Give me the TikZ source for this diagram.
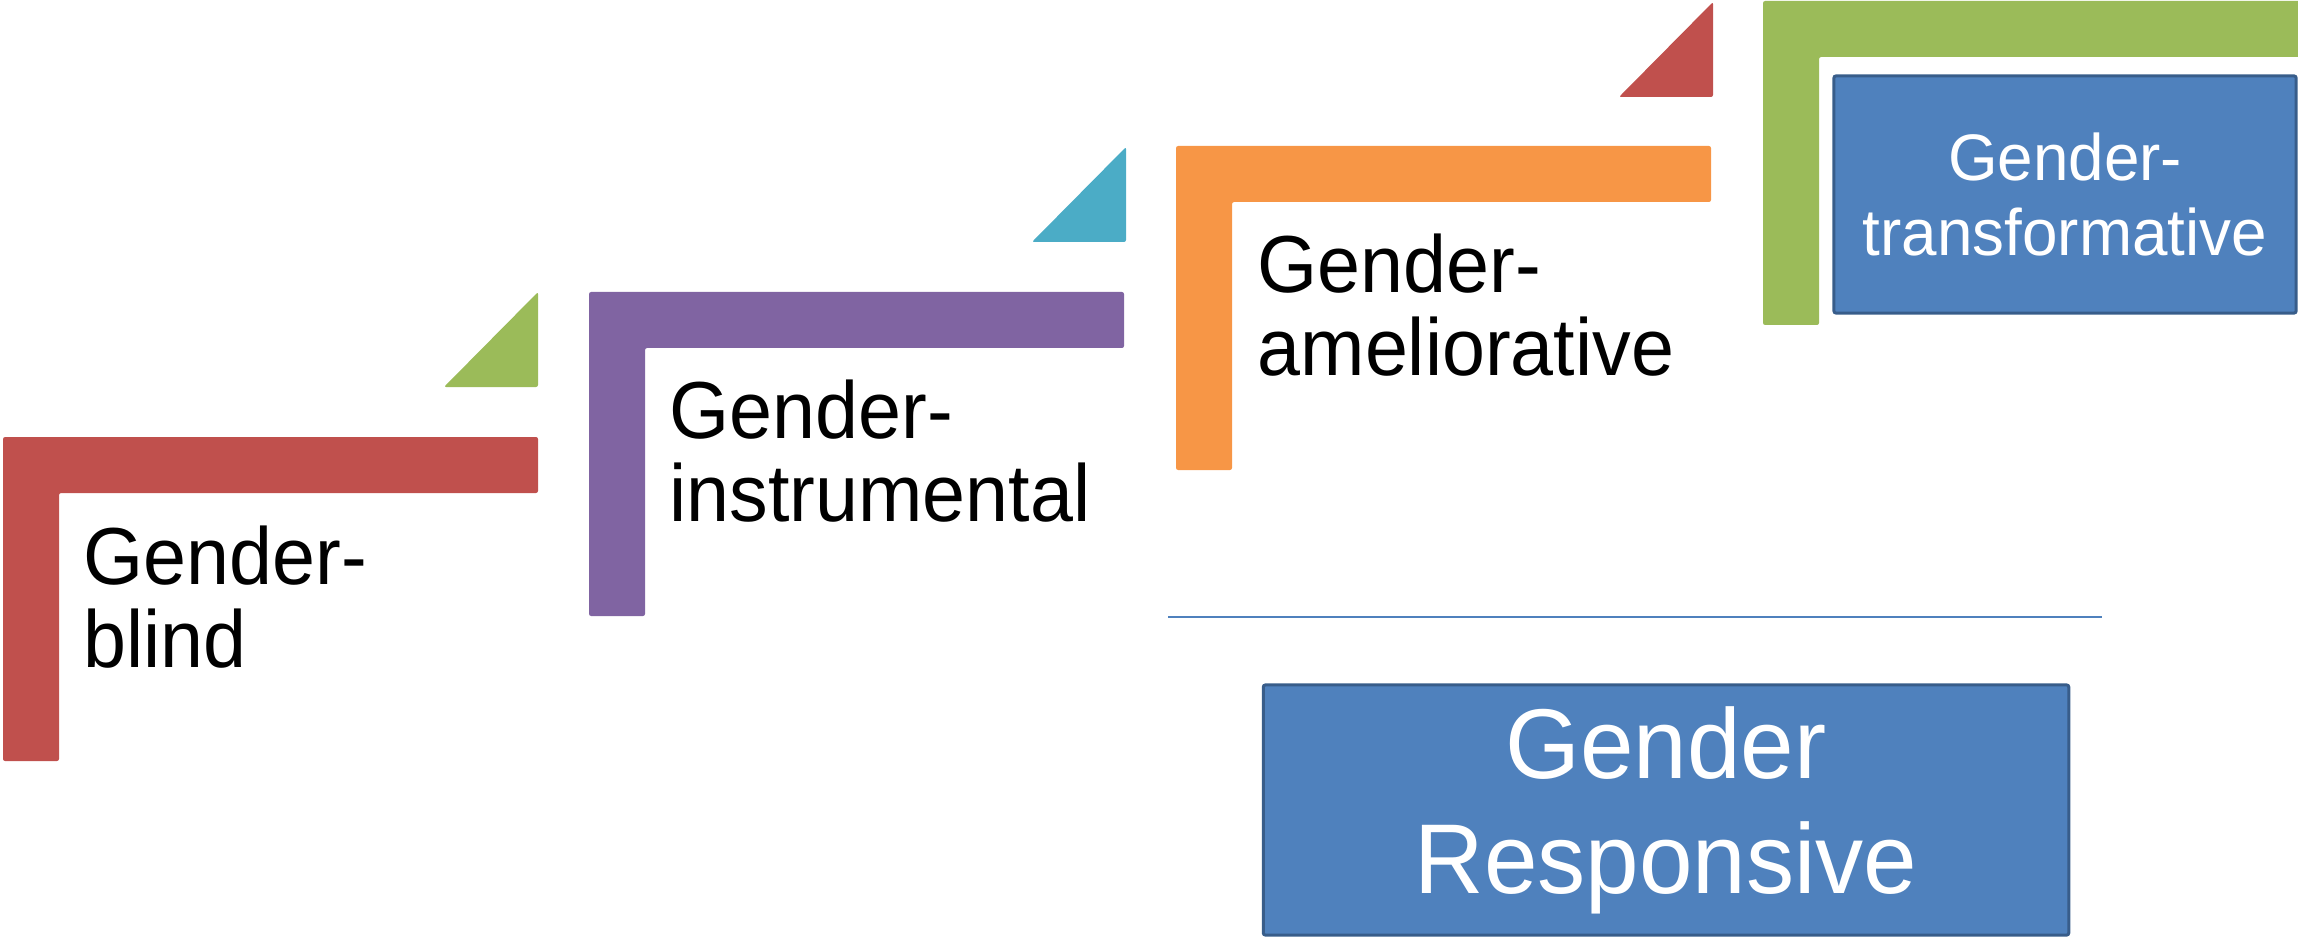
\documentclass[tikz,border=0pt]{standalone}
\usepackage{fontspec}
\setmainfont[FakeStretch=0.97]{Liberation Sans}
\newfontfamily\steptextfont[FakeStretch=0.955]{Liberation Sans}
\usetikzlibrary{positioning}

\definecolor{stepred}{HTML}{C0504D}
\definecolor{stepgreen}{HTML}{9BBB59}
\definecolor{steppurple}{HTML}{8064A2}
\definecolor{stepcyan}{HTML}{4BACC6}
\definecolor{steporange}{HTML}{F79646}
\definecolor{boxblue}{HTML}{4F81BD}
\definecolor{boxedge}{HTML}{385D8A}

\tikzset{
  steplabel/.style={anchor=north west, inner sep=0pt, align=left,
    font=\steptextfont\fontsize{23}{23.6}\selectfont},
  bluebox/.style={draw=boxedge, line width=0.85pt, fill=boxblue, text=white,
    rounded corners=0.6pt, align=center, inner sep=0pt}
}

\begin{document}
\begin{tikzpicture}[x=0.01cm, y=-0.01cm]
    \useasboundingbox (0,0) rectangle (2298,937);

    % steps
    \fill[stepred, rounded corners=0.6pt] (3,437) -- ++(535,0) -- ++(0,56) -- ++(-479,0) -- ++(0,268) -- ++(-56,0) -- cycle;
    \fill[steppurple, rounded corners=0.6pt] (589,292) -- ++(535,0) -- ++(0,56) -- ++(-479,0) -- ++(0,268) -- ++(-56,0) -- cycle;
    \fill[steporange, rounded corners=0.6pt] (1176,146) -- ++(535,0) -- ++(0,56) -- ++(-479,0) -- ++(0,268) -- ++(-56,0) -- cycle;
    \fill[stepgreen, rounded corners=0.6pt] (1763,1) -- ++(540,0) -- ++(0,56) -- ++(-484,0) -- ++(0,268) -- ++(-56,0) -- cycle;

    % triangles
    \fill[stepgreen, rounded corners=0.6pt] (444,387) -- (538,292) -- (538,387) -- cycle;
    \fill[stepcyan, rounded corners=0.6pt] (1032,242) -- (1126,147) -- (1126,242) -- cycle;
    \fill[stepred, rounded corners=0.6pt] (1619,97) -- (1713,2) -- (1713,97) -- cycle;

    \node[steplabel] (blind) at (83,525) {Gender-\\blind};
    \node[steplabel] (instr) at (669,379) {Gender-\\instrumental};
    \node[steplabel] (amel) at (1257,233) {Gender-\\ameliorative};

    \node[bluebox, minimum width=4.62cm, minimum height=2.37cm,
      font=\fontsize{18.7}{21.6}\selectfont] (transf) at (2065,194.5) {Gender-\\transformative};

    \draw[boxblue, line width=0.5pt] (1168,617) -- (2102,617);

    \node[bluebox, minimum width=8.05cm, minimum height=2.50cm,
      font=\fontsize{28.2}{32.7}\selectfont] (resp) at (1666,810) {Gender\\Responsive};
\end{tikzpicture}
\end{document}
